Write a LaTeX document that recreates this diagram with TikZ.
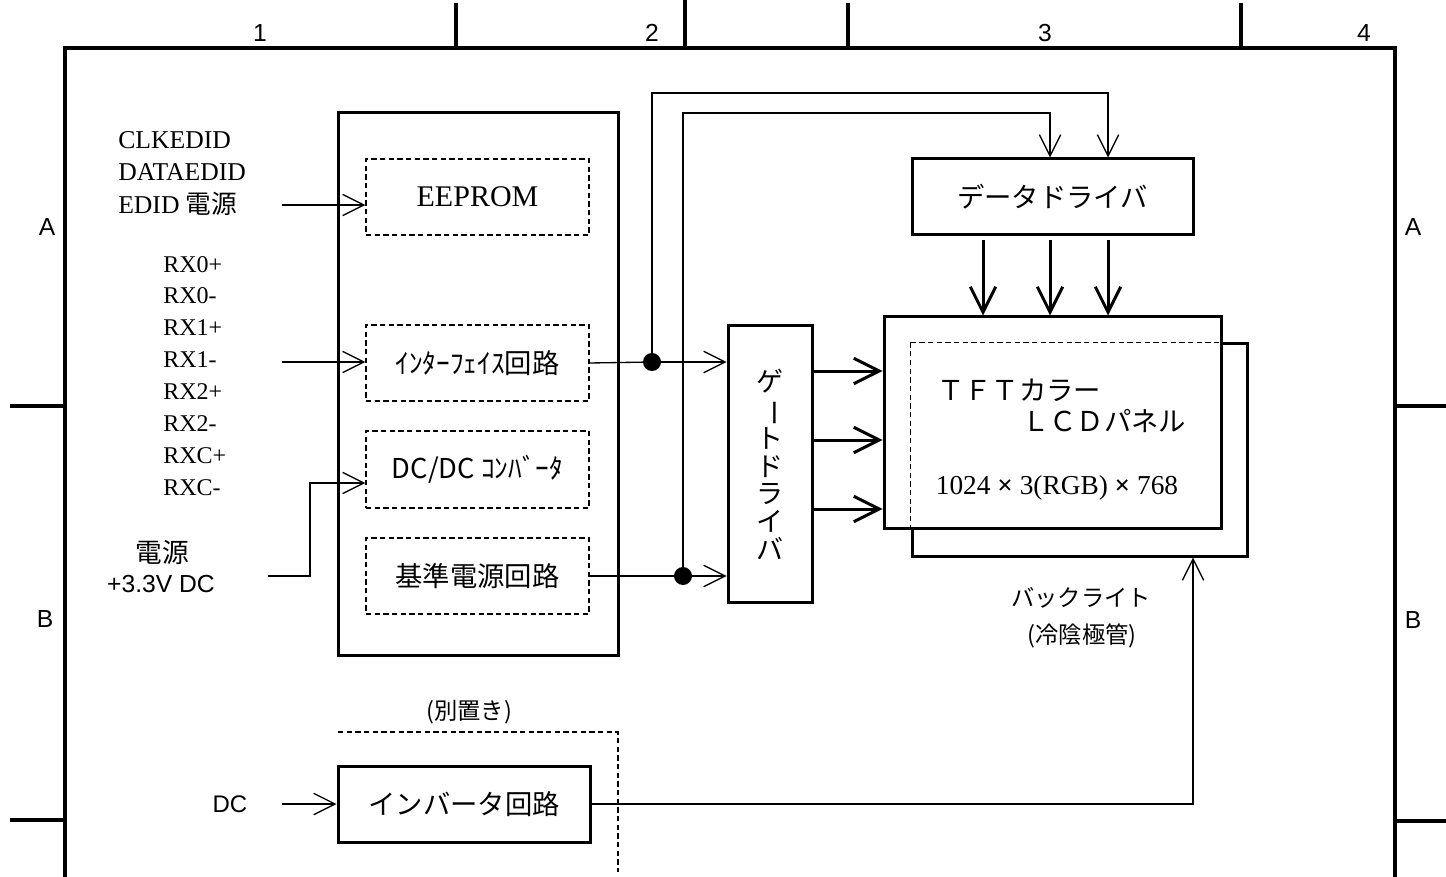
\documentclass[tikz,border=0pt]{standalone}
\usepackage{fontspec}
\usepackage{graphicx}
\setmainfont{Liberation Serif}
\newfontfamily\jp{Noto Sans CJK JP}
\newfontfamily\arial{Liberation Sans}
\usetikzlibrary{arrows.meta}
\tikzset{
  frameline/.style={line width=3pt},
  solidbox/.style={draw, line width=2.25pt, inner sep=0pt, align=center},
  dashbox/.style={draw, line width=0.8pt, dash pattern=on 4pt off 2.5pt, inner sep=0pt, align=center},
  conn/.style={line width=1pt},
  thinarr/.style={conn, -{Straight Barb[length=16pt,width=16pt]}},
  thickarr/.style={line width=2.25pt, -{Straight Barb[length=19pt,width=19pt]}},
  junction/.style={circle, fill, inner sep=0pt, minimum size=13.5pt},
  lbl/.style={inner sep=0pt, font=\fontsize{19.25pt}{19.25pt}\selectfont},
  rxlbl/.style={inner sep=0pt, anchor=west, font=\fontsize{18pt}{18pt}\selectfont},
  framelbl/.style={inner sep=0pt, font=\arial\fontsize{18.5pt}{18.5pt}\selectfont},
  jpbig/.style={font=\jp\fontsize{20.5pt}{20.5pt}\selectfont},
  jpsmall/.style={inner sep=0pt, font=\jp\fontsize{17.5pt}{17.5pt}\selectfont},
}
\begin{document}
\begin{tikzpicture}[x=0.75pt,y=-0.75pt]
\useasboundingbox (0,0) rectangle (1446,877);
% ---------- frame ----------
\draw[frameline] (65,877) -- (65,48) -- (1395,48) -- (1395,877);
\draw[frameline] (456,3) -- (456,48);
\draw[frameline] (685,0) -- (685,48);
\draw[frameline] (848,3) -- (848,48);
\draw[frameline] (1241,3) -- (1241,48);
\draw[frameline] (10,406) -- (65,406);
\draw[frameline] (10,820) -- (65,820);
\draw[frameline] (1395,406) -- (1446,406);
\draw[frameline] (1395,821) -- (1446,821);
\node[framelbl] (n1) at (260,33) {1};
\node[framelbl] (n2) at (652,33) {2};
\node[framelbl] (n3) at (1045,33) {3};
\node[framelbl] (n4) at (1364,33) {4};
\node[framelbl] (la) at (47,227) {A};
\node[framelbl] (lb) at (45,619) {B};
\node[framelbl] (ra) at (1413,227) {A};
\node[framelbl] (rb) at (1413,620) {B};
% ---------- left module ----------
\node[solidbox, minimum width=210pt, minimum height=406.5pt] (mod) at (478,384) {};
\node[dashbox, minimum width=167.25pt, minimum height=57pt,
      font=\fontsize{22.5pt}{22.5pt}\selectfont] (eeprom) at (477.5,197) {EEPROM};
\node[dashbox, minimum width=167.25pt, minimum height=57pt, jpbig] (intf) at (477.5,363) {ｲﾝﾀｰﾌｪｲｽ回路};
\node[dashbox, minimum width=167.25pt, minimum height=57.75pt, jpbig] (dcdc) at (477.5,469.5) {DC/DC ｺﾝﾊﾞｰﾀ};
\node[dashbox, minimum width=167.25pt, minimum height=57pt, jpbig] (ref) at (477.5,576) {基準電源回路};
% ---------- drivers and panel ----------
\node[solidbox, minimum width=210.75pt, minimum height=57pt, jpbig] (ddrv) at (1052.5,197) {データドライバ};
\node[solidbox, minimum width=63pt, minimum height=207pt,
      font=\jp\fontsize{20.25pt}{20.7pt}\selectfont] (gdrv) at (770,464)
      {ゲ\\\rotatebox[origin=c]{-90}{ー}\\ト\\ド\\ラ\\イ\\バ};
\node[solidbox, minimum width=251.25pt, minimum height=159pt] (bl) at (1079.5,450) {};
\node[solidbox, fill=white, minimum width=252.75pt, minimum height=158.25pt] (lcd) at (1052.5,422.5) {};
\draw[dashbox] (bl.north west) -- (bl.north west -| lcd.east);
\draw[dashbox] (bl.north west) -- (bl.north west |- lcd.south);
\node[inner sep=0pt, jpbig, anchor=west] (tft1) at (937,390) {ＴＦＴカラー};
\node[inner sep=0pt, jpbig, anchor=west] (tft2) at (1022,421) {ＬＣＤパネル};
\node[inner sep=0pt, font=\fontsize{20.5pt}{20.5pt}\selectfont] (res) at (1057,488) {1024 \textbf{×} 3(RGB) \textbf{×} 768};
\node[jpsmall] (bk1) at (1081,598) {バックライト};
\node[jpsmall] (bk2) at (1082,636) {(冷陰極管)};
% ---------- inverter ----------
\node[solidbox, minimum width=189pt, minimum height=57pt, jpbig] (inv) at (464,804) {インバータ回路};
\node[jpsmall] (bechi) at (469,712) {(別置き)};
\coordinate (sepA) at (338,732);
\coordinate (sepB) at (618,732);
\coordinate (sepC) at (618,872);
\draw[dashbox] (sepA) -- (sepB) -- (sepC);
% ---------- left labels ----------
\node[lbl, anchor=west] (clk) at (118,140) {CLKEDID};
\node[lbl, anchor=west] (dat) at (118,172) {DATAEDID};
\node[lbl, anchor=west] (edp) at (118,204) {EDID {\jp 電源}};
\node[rxlbl] (r0p) at (163,265) {RX0+};
\node[rxlbl] (r0m) at (163,296) {RX0-};
\node[rxlbl] (r1p) at (163,328) {RX1+};
\node[rxlbl] (r1m) at (163,360) {RX1-};
\node[rxlbl] (r2p) at (163,392) {RX2+};
\node[rxlbl] (r2m) at (163,424) {RX2-};
\node[rxlbl] (rcp) at (163,456) {RXC+};
\node[rxlbl] (rcm) at (163,488) {RXC-};
\node[inner sep=0pt, font=\jp\fontsize{20pt}{20pt}\selectfont] (pw1) at (162,552) {電源};
\node[inner sep=0pt, font=\arial\fontsize{18.5pt}{18.5pt}\selectfont] (pw2) at (161,584) {+3.3V DC};
\node[inner sep=0pt, font=\arial\fontsize{18pt}{18pt}\selectfont] (dcl) at (230,804) {DC};
% ---------- connectors ----------
\coordinate (e1) at (282,205);
\draw[thinarr] (e1) -- (e1 -| eeprom.west);
\coordinate (rx) at (282,362);
\draw[thinarr] (rx) -- (rx -| intf.west);
\coordinate (p1) at (268,576);
\coordinate (p2) at (310,576);
\coordinate (p3) at (310,483);
\draw[thinarr] (p1) -- (p2) -- (p3) -- (p3 -| dcdc.west);
\node[junction] (dot1) at (652,362) {};
\node[junction] (dot2) at (683,576) {};
\draw[conn] (intf.east) -- (dot1.center);
\draw[conn] (ref.east) -- (dot2.center);
\draw[thinarr] (dot1.center) -- (dot1.center -| gdrv.west);
\draw[thinarr] (dot2.center) -- (dot2.center -| gdrv.west);
\coordinate (t1) at (0,93);
\coordinate (t2) at (0,113);
\coordinate (x1) at (1108,0);
\coordinate (x2) at (1050,0);
\coordinate (x3) at (983,0);
\draw[thinarr] (dot1.center) -- (dot1.center |- t1) -| (ddrv.north -| x1);
\draw[thinarr] (dot2.center) -- (dot2.center |- t2) -| (ddrv.north -| x2);
\foreach \c in {x1,x2,x3}{
  \draw[thickarr] ([yshift=-2.5pt]ddrv.south -| \c) -- (lcd.north -| \c);
}
\coordinate (g1) at (0,371);
\coordinate (g2) at (0,440);
\coordinate (g3) at (0,509);
\foreach \g in {g1,g2,g3}{
  \draw[thickarr] (gdrv.east |- \g) -- (lcd.west |- \g);
}
\coordinate (dcin) at (282,804);
\draw[thinarr] (dcin) -- (dcin -| inv.west);
\coordinate (blx) at (1193,0);
\draw[thinarr] (inv.east) -| (bl.south -| blx);
\end{tikzpicture}
\end{document}
